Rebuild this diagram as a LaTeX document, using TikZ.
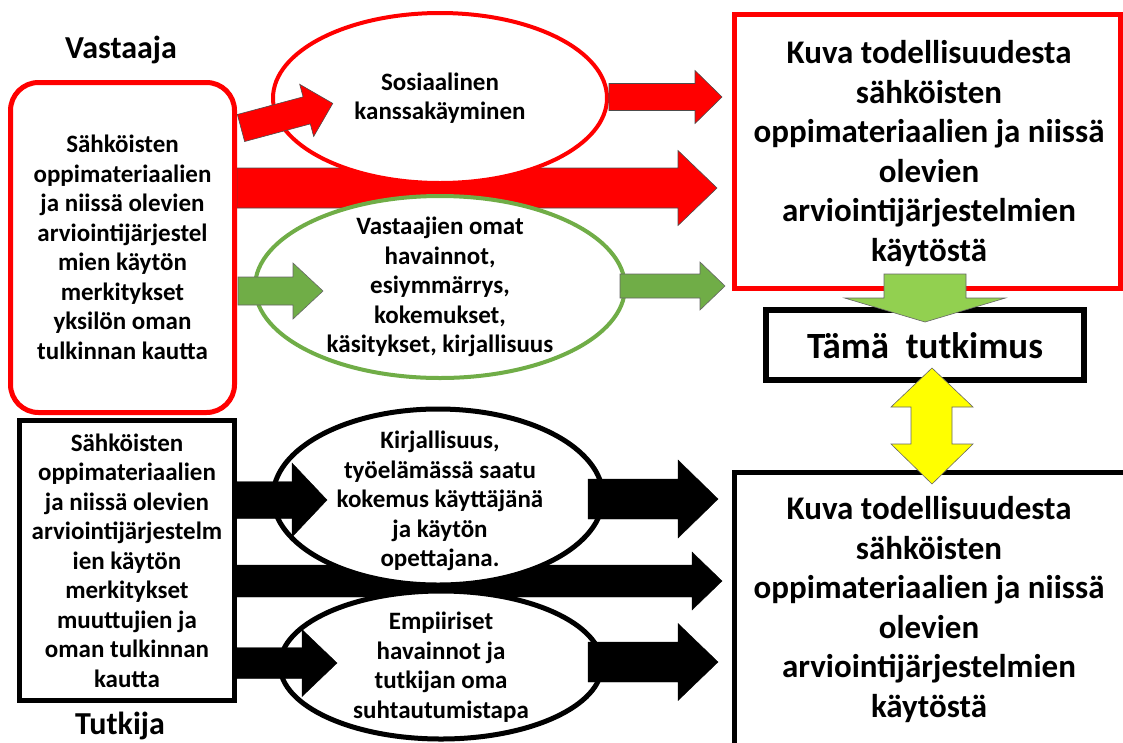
\documentclass[tikz,border=0pt]{standalone}
\usepackage{fontspec}
\setmainfont{Carlito}
\usetikzlibrary{shapes.geometric}
\definecolor{pptred}{HTML}{FF0000}
\definecolor{pptgreen}{HTML}{70AD47}
\definecolor{lightgreen}{HTML}{92D050}
\definecolor{pptyellow}{HTML}{FFFF00}

% block arrow: style, tail x, tail y, angle, length, shaft half-width, head half-width, head length
\newcommand{\blockarrow}[8]{%
  \draw[#1,shift={(#2,#3)},rotate=#4]
    (0,-#6) -- ({#5-#8},-#6) -- ({#5-#8},-#7) -- (#5,0)
    -- ({#5-#8},#7) -- ({#5-#8},#6) -- (0,#6) -- cycle;}

\tikzset{
  body/.style={font=\bfseries\fontsize{25}{29.5}\selectfont, align=center, inner sep=0pt},
  bigtext/.style={font=\bfseries\fontsize{33}{39.5}\selectfont, align=center, inner sep=0pt},
  title/.style={font=\bfseries\fontsize{32}{38}\selectfont, inner sep=0pt},
  redarrow/.style={fill=pptred, draw=black!70, line width=0.6pt},
  greenarrow/.style={fill=pptgreen, draw=black!60, line width=0.6pt},
  blackarrow/.style={fill=black, draw=black, line width=0.4pt},
  oval/.style={ellipse, fill=white, inner sep=0pt},
  frame/.style={rectangle, fill=white, inner sep=0pt},
}

\begin{document}
\begin{tikzpicture}[x=1pt,y=-1pt]
\useasboundingbox (0,0) rectangle (1123,742);
\clip (0,0) rectangle (1123,742);

% long arrows running behind the ovals
\blockarrow{redarrow}{237}{188}{0}{480}{20}{37.5}{39}
\blockarrow{blackarrow}{237}{581}{0}{485}{16}{29}{30}

% ovals
\node[oval, draw=pptred, line width=4pt, minimum width=334pt, minimum height=170pt] (social) at (440,98) {};
\node[oval, draw=pptgreen, line width=4pt, minimum width=370pt, minimum height=182pt] (own) at (440,287) {};
\node[oval, draw=black, line width=5pt, minimum width=330pt, minimum height=176pt] (lit) at (438,497) {};
\node[oval, draw=black, line width=5pt, minimum width=322pt, minimum height=148pt] (emp) at (441,665) {};

% left boxes
\node[frame, draw=pptred, line width=5pt, rounded corners=28pt, minimum width=224pt, minimum height=330pt] (resp) at (122.5,247.5) {};
\node[frame, draw=black, line width=5pt, minimum width=215pt, minimum height=280pt] (res) at (127,560.5) {};

% right boxes
\node[frame, draw=pptred, line width=5pt, minimum width=385.5pt, minimum height=273.5pt] (picA) at (927.25,151.25) {};
\node[frame, draw=black, line width=5pt, minimum width=392pt, minimum height=280pt] (picB) at (930,612) {};
\node[frame, draw=black, line width=6pt, minimum width=318pt, minimum height=70pt] (study) at (925,345) {};

% short arrows
\blockarrow{redarrow}{241}{128}{15}{95}{14}{27}{27}
\blockarrow{redarrow}{609}{97}{0}{113}{13.5}{26.5}{27}
\blockarrow{greenarrow}{238}{291}{0}{85}{14}{28}{30}
\blockarrow{greenarrow}{620}{286}{0}{105}{12}{24}{25}
\blockarrow{blackarrow}{237}{500}{0}{90}{18.5}{37}{35}
\blockarrow{blackarrow}{237}{663}{0}{100}{15.5}{33.5}{35}
\blockarrow{blackarrow}{588}{499}{0}{130}{20}{39}{40}
\blockarrow{blackarrow}{588}{662}{0}{130}{20}{38.5}{40}

% arrows between the right-hand boxes
\blockarrow{fill=lightgreen, draw=black!60, line width=0.6pt}{925}{274}{-90}{48}{41}{80.5}{24}
\draw[fill=pptyellow, draw=black!60, line width=0.6pt]
  (932,368) -- (891,407) -- (911,407) -- (911,444) -- (891,444) -- (932,484)
  -- (973,444) -- (952,444) -- (952,407) -- (973,407) -- cycle;

% texts
\node[title, anchor=base] (ttlA) at (121,58) {Vastaaja};
\node[title, anchor=base] (ttlB) at (120,734) {Tutkija};

\node[body] (respT) at (resp) {Sähköisten\\oppimateriaalien\\ja niissä olevien\\arviointijärjestel\\mien käytön\\merkitykset\\yksilön oman\\tulkinnan kautta};
\node[body] (resT) at (res) {Sähköisten\\oppimateriaalien\\ja niissä olevien\\arviointijärjestelm\\ien käytön\\merkitykset\\muuttujien ja\\oman tulkinnan\\kautta};

\node[body] (socialT) at (social) {Sosiaalinen\\kanssakäyminen};
\node[body] (ownT) at (own) {Vastaajien omat\\havainnot,\\esiymmärrys,\\kokemukset,\\käsitykset, kirjallisuus};
\node[body] (litT) at (440,501) {Kirjallisuus,\\työelämässä saatu\\kokemus käyttäjänä\\ja käytön\\opettajana.};
\node[body] (empT) at (441,667) {Empiiriset\\havainnot ja\\tutkijan oma\\suhtautumistapa};

\node[bigtext] (picAT) at (929,153.5) {Kuva todellisuudesta\\sähköisten\\oppimateriaalien ja niissä\\olevien\\arviointijärjestelmien\\käytöstä};
\node[bigtext] (picBT) at (929,609.5) {Kuva todellisuudesta\\sähköisten\\oppimateriaalien ja niissä\\olevien\\arviointijärjestelmien\\käytöstä};

\node[font=\bfseries\fontsize{37}{44}\selectfont, inner sep=0pt] (studyT) at (925,346) {Tämä\ \ tutkimus};
\end{tikzpicture}
\end{document}
